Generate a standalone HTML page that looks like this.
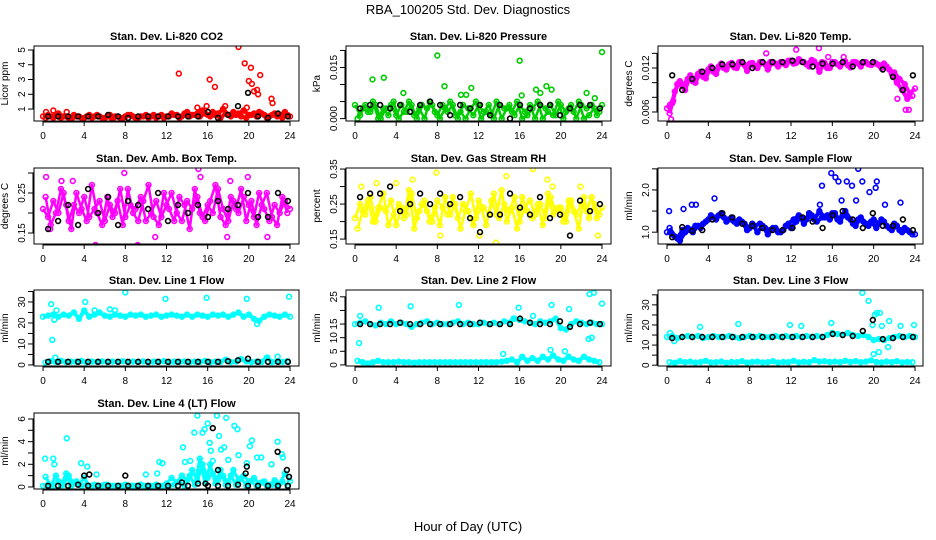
<!DOCTYPE html>
<html><head><meta charset="utf-8">
<style>
html,body{margin:0;padding:0;background:#fff;}
svg{display:block;font-family:"Liberation Sans",sans-serif;}
</style></head>
<body>
<svg id="chart" width="936" height="540" viewBox="0 0 936 540" xmlns="http://www.w3.org/2000/svg">
<text x="468" y="14" text-anchor="middle" font-size="13">RBA_100205  Std. Dev. Diagnostics</text>
<text x="468" y="531" text-anchor="middle" font-size="13">Hour of Day (UTC)</text>
</svg>
<script>
// ---- data arrays ----
const xTicks = [0,4,8,12,16,20,24];

const co2A = [0.5,0.6,0.4,0.7,0.5,0.4,0.6,0.5,0.4,0.6,0.5,0.5,0.4,0.6,0.5,0.4,0.5,0.6,0.4,0.5,0.6,0.5,0.4,0.6,0.5,0.7,0.6,0.5,0.8,0.6,0.7,0.9,0.6,0.8,0.7,1.0,0.6,0.8,0.7,0.9,0.6,0.7,0.8,0.6,0.5,0.7,0.6,0.8,0.5];
const co2B = [0.4,0.5,0.6,0.4,0.5,0.3,0.5,0.4,0.5,0.4,0.6,0.4,0.5,0.3,0.5,0.4,0.6,0.5,0.4,0.5,0.4,0.6,0.5,0.4,0.5,0.6,0.4,0.7,0.5,0.6,0.5,0.7,0.5,0.6,0.4,0.7,0.5,0.6,0.5,0.4,0.6,0.5,0.7,0.4,0.6,0.5,0.4,0.6];
const co2K = [0.5,0.5,0.5,0.5,0.5,0.5,0.6,0.5,0.4,0.5,0.5,0.5,0.5,0.5,0.5,0.5,0.8,0.4,0.6,1.2,2.1,0.5,0.4,0.7,0.5];
const co2OutH = [13.2,16.2,16.7,19.0,19.6,20.2,20.0,20.3,20.5,20.8,20.9,21.1,22.2,22.3,15.0,15.9,17.7,19.8,0.3,1.0,2.3];
const co2OutV = [3.4,3.0,2.5,5.2,4.1,3.8,2.9,2.7,2.2,2.3,2.0,3.3,1.7,1.4,1.1,1.2,1.2,1.1,0.8,0.9,0.8];

const prA = [0.004,0.001,0.004,0.002,0.004,0.000,0.003,0.004,0.001,0.004,0.002,0.004,0.000,0.004,0.003,0.004,0.001,0.004,0.002,0.004,0.000,0.004,0.003,0.001,0.004,0.002,0.004,0.000,0.004,0.003,0.004,0.001,0.004,0.002,0.004,0.000,0.004,0.003,0.004,0.001,0.004,0.002,0.004,0.000,0.004,0.003,0.004,0.001,0.004];
const prB = [0.000,0.003,0.002,0.005,0.000,0.003,0.001,0.005,0.000,0.002,0.005,0.001,0.003,0.000,0.005,0.002,0.000,0.003,0.005,0.001,0.002,0.000,0.003,0.005,0.000,0.002,0.001,0.005,0.000,0.003,0.002,0.005,0.000,0.001,0.003,0.005,0.000,0.002,0.001,0.005,0.000,0.003,0.002,0.005,0.000,0.001,0.003,0.002];
const prK = [0.003,0.004,0.004,0.003,0.004,0.002,0.004,0.005,0.004,0.001,0.004,0.003,0.004,0.001,0.004,0.000,0.004,0.003,0.004,0.004,0.001,0.003,0.004,0.004,0.003];
const prOutH = [1.7,2.8,4.7,8.0,8.7,10.3,10.8,11.3,16.0,16.2,17.6,18.0,18.6,19.1,22.5,24.0,23.3];
const prOutV = [0.0115,0.012,0.0075,0.0185,0.0095,0.007,0.007,0.009,0.017,0.0068,0.0085,0.0075,0.0095,0.0085,0.0075,0.0195,0.006];

const tmA = [0.0065,0.0072,0.0098,0.0095,0.0105,0.0102,0.0112,0.0108,0.0118,0.0115,0.0122,0.0120,0.0125,0.0121,0.0128,0.0124,0.0126,0.0122,0.0128,0.0125,0.0128,0.0126,0.0128,0.0124,0.0130,0.0127,0.0129,0.0125,0.0131,0.0124,0.0128,0.0120,0.0128,0.0125,0.0128,0.0124,0.0128,0.0126,0.0128,0.0125,0.0128,0.0124,0.0126,0.0118,0.0114,0.0105,0.0098,0.0085,0.0092];
const tmB = [0.0058,0.0088,0.0102,0.0090,0.0110,0.0100,0.0115,0.0106,0.0122,0.0112,0.0126,0.0118,0.0127,0.0120,0.0128,0.0116,0.0127,0.0120,0.0128,0.0118,0.0128,0.0122,0.0127,0.0130,0.0126,0.0132,0.0128,0.0122,0.0129,0.0115,0.0127,0.0120,0.0128,0.0122,0.0129,0.0121,0.0128,0.0122,0.0128,0.0124,0.0126,0.0120,0.0122,0.0112,0.0100,0.0090,0.0078,0.0082];
const tmK = [0.0110,0.0090,0.0105,0.0115,0.0120,0.0125,0.0125,0.0128,0.0120,0.0128,0.0128,0.0128,0.0130,0.0128,0.0122,0.0126,0.0126,0.0128,0.0122,0.0128,0.0128,0.0118,0.0108,0.0090,0.0110];
const tmOutH = [0.4,9.6,14.7,12.5,15.6,23.1,23.4,22.3,17.1,0.3,0.6];
const tmOutV = [0.0050,0.0140,0.0147,0.0145,0.0135,0.0063,0.0063,0.0078,0.0135,0.0070,0.0075];

const abA = [0.21,0.19,0.23,0.20,0.25,0.18,0.22,0.20,0.24,0.19,0.21,0.23,0.18,0.22,0.20,0.26,0.19,0.22,0.21,0.24,0.18,0.20,0.23,0.19,0.22,0.25,0.20,0.18,0.23,0.21,0.24,0.19,0.22,0.20,0.26,0.21,0.18,0.23,0.20,0.24,0.22,0.19,0.25,0.21,0.18,0.22,0.20,0.23,0.21];
const abB = [0.24,0.17,0.20,0.26,0.22,0.16,0.25,0.21,0.18,0.27,0.20,0.17,0.24,0.19,0.23,0.17,0.26,0.20,0.18,0.23,0.27,0.19,0.17,0.25,0.21,0.18,0.24,0.22,0.16,0.26,0.20,0.18,0.23,0.27,0.19,0.17,0.24,0.21,0.26,0.18,0.23,0.17,0.22,0.25,0.19,0.17,0.24,0.20];
const abK = [0.16,0.18,0.22,0.17,0.26,0.20,0.24,0.17,0.23,0.22,0.21,0.25,0.18,0.22,0.20,0.22,0.19,0.23,0.21,0.22,0.25,0.19,0.19,0.25,0.23];
const abOutH = [0.3,1.8,2.9,5.1,7.9,9.2,15.1,15.3,17.9,19.9,21.8,18.2,10.9,0.7];
const abOutV = [0.29,0.28,0.28,0.12,0.30,0.12,0.31,0.29,0.14,0.29,0.14,0.28,0.14,0.16];

const rhA = [0.21,0.25,0.22,0.27,0.20,0.24,0.23,0.26,0.19,0.24,0.22,0.28,0.21,0.25,0.23,0.20,0.26,0.24,0.22,0.27,0.21,0.25,0.23,0.19,0.26,0.24,0.22,0.28,0.21,0.25,0.23,0.27,0.20,0.24,0.26,0.22,0.25,0.21,0.27,0.23,0.24,0.20,0.26,0.22,0.25,0.23,0.27,0.21,0.24];
const rhB = [0.18,0.23,0.26,0.20,0.24,0.28,0.19,0.22,0.25,0.21,0.29,0.18,0.23,0.26,0.20,0.24,0.19,0.27,0.22,0.25,0.18,0.23,0.28,0.21,0.24,0.19,0.26,0.22,0.29,0.20,0.24,0.18,0.27,0.23,0.21,0.25,0.19,0.28,0.22,0.24,0.20,0.26,0.23,0.18,0.27,0.21,0.25,0.22];
const rhK = [0.27,0.28,0.28,0.30,0.23,0.25,0.28,0.25,0.28,0.25,0.27,0.21,0.17,0.22,0.22,0.28,0.24,0.22,0.27,0.21,0.22,0.16,0.26,0.23,0.25];
const rhOutH = [0.6,2.1,5.6,7.9,13.7,14.7,17.3,18.7,21.9,19.2,23.6,12.1,8.3,4.0];
const rhOutV = [0.30,0.31,0.32,0.34,0.14,0.33,0.35,0.32,0.30,0.30,0.16,0.16,0.16,0.31];

const sfA = [1.0,0.95,0.85,1.05,1.1,1.0,1.15,1.2,1.3,1.35,1.4,1.35,1.3,1.25,1.3,1.2,1.1,1.15,1.2,1.1,1.05,1.1,1.0,1.15,1.1,1.25,1.35,1.3,1.4,1.25,1.35,1.4,1.45,1.3,1.4,1.35,1.2,1.3,1.25,1.15,1.3,1.2,1.25,1.1,1.2,1.05,1.1,1.0,0.95];
const sfB = [1.1,0.9,0.8,1.0,1.05,1.15,1.1,1.25,1.4,1.3,1.45,1.25,1.35,1.2,1.25,1.05,1.2,1.0,1.15,0.95,1.1,1.0,1.05,1.2,1.3,1.4,1.2,1.45,1.3,1.5,1.35,1.3,1.45,1.25,1.5,1.3,1.15,1.35,1.2,1.25,1.1,1.3,1.15,1.05,1.15,1.0,1.05,0.95];
const sfK = [0.88,1.12,1.03,1.05,1.3,1.45,1.35,1.2,1.15,1.1,1.05,1.05,1.1,1.35,1.25,1.1,1.4,1.5,1.3,1.1,1.45,1.15,1.15,1.3,1.05];
const sfOutH = [0.2,1.6,2.4,2.8,4.6,15.0,15.9,16.3,16.6,17.4,17.9,18.5,18.9,19.6,20.2,20.3,21.1,22.6,14.8,16.9,18.3];
const sfOutV = [1.5,1.55,1.65,1.65,1.8,2.1,2.4,2.3,2.2,2.2,2.1,2.5,2.2,1.95,2.05,2.2,1.65,1.7,1.65,1.75,1.75];

const l1A = [23,23.5,24,23,24,23.5,25,22,26,23,24,25,23.5,23,24,23.5,23,24,23.5,24,23,23.5,24,23,23.5,24,23.5,23,24,23,24,23.5,23,24,23.5,24,23,24,25,23,24,22,21,23,24,23.5,23,24,23];
const l1B = [1.2,1.8,1.5,2.0,1.4,1.6,1.5,1.9,1.3,1.6,1.5,1.7,1.4,1.6,1.5,1.8,1.4,1.6,1.5,1.7,1.3,1.6,1.5,1.8,1.4,1.6,1.5,1.7,1.4,1.6,1.5,1.9,1.3,1.6,1.5,2.5,1.4,1.6,2.8,1.7,1.4,1.6,1.5,3.5,1.4,1.6,1.5,1.8];
const l1K = [1.5,1.5,1.5,1.5,1.5,1.5,1.5,1.5,1.5,1.5,1.5,1.5,1.5,1.5,1.5,1.5,1.5,1.5,1.8,2.2,3.0,1.5,1.5,1.5,1.5];
const l1OutH = [0.8,1.1,0.9,1.2,4.1,8.0,1.3,11.9,15.9,19.8,23.9,6.5,7.0,20.8,22.8,21.8,5.0];
const l1OutV = [29,21.5,12,3.5,30,34.5,26,31.5,32,31.5,32.5,26.5,26,19.5,4,3.5,26];

const l2A = [15,15.5,16,15,14.5,15.5,15,16,15,15.5,15,14,15,15.5,16,15,15.5,15,15,15.5,16,15,15.5,15,15,15.5,15,15.5,15,16,15.5,17,16.5,16,15.5,15,16,15.5,16,17,13.5,13,15,16,15.5,15,15.5,15,15];
const l2B = [1.5,1,0.5,1,1.5,1,1,1,1.2,1,1,0.8,1,1,1,1,1,1,1,1,1,1,1,1,1,1,1,1,1.2,1.5,2,1,3,1.5,2.5,1.5,3,2,3.5,2,1.5,3,2,1.5,3,2,1.5,1];
const l2K = [15,15,15,15,15.5,15,15,15,15,15,15,15,15.5,15,15,15,17,15.5,15,15,16,14,15,15.5,15];
const l2OutH = [0.5,0.4,2.3,5.4,10.1,15.9,19.1,20.8,22.8,23.2,24.0,22.7,23.0,14.4,19.0,20.4,17.3,15.4];
const l2OutV = [18,8,21,21.5,22,21,22,20.5,26,26.5,22.5,9.5,10,4,5.5,5,18,17];

const l3A = [14,14.5,13.5,14,14.5,14,14.5,13.5,14,14.5,14,14,14.5,14,13.5,14,14.5,14,14.5,14,14,14.5,14,14.5,14,14.5,14,14.5,14,14.5,14,15,16,15.5,15,16,15,14.5,15,14,12.5,13,12.5,13.5,14,14.5,14,14.5,14];
const l3B = [1.5,1.2,2.0,1.5,1.8,1.3,1.6,2.2,1.4,1.5,1.8,1.2,1.6,1.5,2.0,1.3,1.6,1.8,1.4,1.5,2.0,1.3,1.6,1.5,2.2,1.4,1.7,1.5,2.5,1.8,2.0,1.6,1.8,1.5,2.2,1.6,2.0,1.5,1.8,2.4,1.6,1.4,1.8,1.5,2.0,1.4,1.6,1.5];
const l3K = [13.5,14,14,14,14,14,14,14,14,14,14,14,14,14,14,14,15.5,15,14.5,17,22.5,13,13.5,14,14];
const l3OutH = [0.3,0.7,3.2,6.9,11.9,13.0,15.9,18.9,19.5,19.9,20.1,20.3,20.6,20.8,21.5,21.4,20.0,20.5,22.6,23.9];
const l3OutV = [16,12,19,20.5,20,19.5,21,36,32,20,25,26,26,19.5,22,9,5.5,6.5,19.5,20];

const l4A = [0.1,0.2,0.1,0.5,0.2,1.0,0.3,0.2,0.8,0.1,0.2,0.1,0.2,0.1,0.1,0.1,0.2,0.1,0.1,0.2,0.1,0.1,0.2,0.1,0.3,0.8,0.4,1.0,0.6,1.5,0.5,2.0,0.8,1.2,0.6,1.0,0.4,1.5,0.6,1.0,0.5,0.8,0.3,0.5,0.2,0.6,0.3,1.2,0.5];
const l4B = [0.9,0.1,1.0,0.1,1.2,0.1,0.5,0.1,0.2,0.1,0.1,0.1,0.2,0.1,0.1,0.1,0.1,0.1,0.1,0.1,0.1,0.1,0.1,0.1,0.1,0.2,0.5,0.1,1.0,0.2,2.5,0.3,2.0,0.3,1.5,0.2,1.0,0.2,0.8,0.1,0.5,0.1,0.4,0.1,0.2,0.1,0.5,0.1];
const l4K = [0.1,0.1,0.1,0.2,0.1,0.1,0.1,0.1,0.1,0.1,0.1,0.1,0.1,0.1,0.1,0.3,0.1,0.1,0.1,0.2,0.1,0.1,0.1,0.1,0.1];
const l4KxH = [4.0,4.5,8.0,16.5,17.0,19.8,19.7,22.8,23.7,23.9,13.5,15.8];
const l4KxV = [1.0,1.1,1.0,5.2,1.5,1.8,1.2,3.1,1.5,0.9,0.4,0.3];
const l4OutH = [0.2,1.0,1.1,2.3,3.7,4.3,11.3,11.6,13.6,13.8,14.7,15.0,15.5,15.7,16.0,16.2,16.9,17.3,17.6,17.8,18.0,18.6,18.9,19.0,19.8,20.1,20.3,20.8,21.2,22.2,22.8,23.2,23.3,16.5,16.3,17.1,14.3,10.0,11.1,5.2];
const l4OutV = [2.5,2.5,2.0,4.3,2.1,1.8,2.2,2.1,3.5,2.2,4.8,6.3,4.8,5.1,5.6,3.9,6.3,3.3,3.5,6.1,2.4,5.4,5.1,2.8,2.1,3.6,4.1,2.6,2.6,2.0,4.0,2.9,2.6,2.3,3.2,4.5,2.3,1.1,1.2,1.1];

// ---- layout (not data) ----
const NS = "http://www.w3.org/2000/svg";
const svg = document.getElementById('chart');
const cols = [{bl:34,br:299,x0:43,x24:290},{bl:346,br:611,x0:355,x24:602},{bl:658,br:923,x0:667,x24:915}];
const rows = [{t:46,b:121},{t:168,b:244},{t:290,b:366},{t:413,b:489}];

const panels = [
 {name:'co2',title:'Stan. Dev. Li-820 CO2',yl:'Licor ppm',c:0,r:0,ymin:0.19,ymax:5.27,ticks:[1,2,3,4,5],labels:['1','2','3','4','5'],col:'#ff0000',lw:4,A:co2A,B:co2B,K:co2K,oh:co2OutH,ov:co2OutV},
 {name:'pressure',title:'Stan. Dev. Li-820 Pressure',yl:'kPa',c:1,r:0,ymin:-0.0007,ymax:0.0213,ticks:[0,0.005,0.01,0.015,0.02],labels:['0.000','','','0.015',''],col:'#00cd00',lw:2.5,A:prA,B:prB,K:prK,oh:prOutH,ov:prOutV},
 {name:'temp',title:'Stan. Dev. Li-820 Temp.',yl:'degrees C',c:2,r:0,ymin:0.00477,ymax:0.015,ticks:[0.006,0.008,0.010,0.012,0.014],labels:['0.006','','','0.012',''],col:'#ff00ff',lw:4,A:tmA,B:tmB,K:tmK,oh:tmOutH,ov:tmOutV},
 {name:'amb-box-temp',title:'Stan. Dev. Amb. Box Temp.',yl:'degrees C',c:0,r:1,ymin:0.1225,ymax:0.3125,ticks:[0.15,0.2,0.25,0.3],labels:['0.15','','0.25',''],col:'#ff00ff',lw:2.5,A:abA,B:abB,K:abK,oh:abOutH,ov:abOutV},
 {name:'gas-rh',title:'Stan. Dev. Gas Stream RH',yl:'percent',c:1,r:1,ymin:0.136,ymax:0.353,ticks:[0.15,0.2,0.25,0.3,0.35],labels:['0.15','','0.25','','0.35'],col:'#ffff00',lw:2.5,A:rhA,B:rhB,K:rhK,oh:rhOutH,ov:rhOutV},
 {name:'sample-flow',title:'Stan. Dev. Sample Flow',yl:'ml/min',c:2,r:1,ymin:0.72,ymax:2.52,ticks:[1,1.5,2,2.5],labels:['1.0','','2.0',''],col:'#0000ff',lw:4,A:sfA,B:sfB,K:sfK,oh:sfOutH,ov:sfOutV},
 {name:'line1-flow',title:'Stan. Dev. Line 1 Flow',yl:'ml/min',c:0,r:2,ymin:-0.5,ymax:35.7,ticks:[0,5,10,15,20,25,30,35],labels:['0','','10','','20','','30',''],col:'#00ffff',lw:4,A:l1A,B:l1B,K:l1K,oh:l1OutH,ov:l1OutV},
 {name:'line2-flow',title:'Stan. Dev. Line 2 Flow',yl:'ml/min',c:1,r:2,ymin:-0.4,ymax:27.5,ticks:[0,5,10,15,20,25],labels:['0','5','10','15','','25'],col:'#00ffff',lw:4,A:l2A,B:l2B,K:l2K,oh:l2OutH,ov:l2OutV},
 {name:'line3-flow',title:'Stan. Dev. Line 3 Flow',yl:'ml/min',c:2,r:2,ymin:-0.4,ymax:37.4,ticks:[0,5,10,15,20,25,30,35],labels:['0','','10','','20','','30',''],col:'#00ffff',lw:4,A:l3A,B:l3B,K:l3K,oh:l3OutH,ov:l3OutV},
 {name:'line4-flow',title:'Stan. Dev. Line 4 (LT) Flow',yl:'ml/min',c:0,r:3,ymin:-0.18,ymax:6.53,ticks:[0,1,2,3,4,5,6],labels:['0','','2','','4','','6'],col:'#00ffff',lw:3,A:l4A,B:l4B,K:l4K,oh:l4OutH,ov:l4OutV,kh:l4KxH,kv:l4KxV}
];

function mk(tag, attrs, parent){
  const e = document.createElementNS(NS, tag);
  for (const k in attrs) e.setAttribute(k, attrs[k]);
  (parent||svg).appendChild(e);
  return e;
}

panels.forEach(p => {
  const C = cols[p.c], R = rows[p.r];
  const xs = h => C.x0 + (C.x24 - C.x0) * h / 24;
  const ys = v => R.b - (R.b - R.t) * (v - p.ymin) / (p.ymax - p.ymin);
  const g = mk('g', {});
  
  

  const t = mk('text', {x:(C.bl+C.br)/2, y:R.t-6, 'text-anchor':'middle', 'font-size':'11', 'font-weight':'bold'}, g);
  t.textContent = p.title;
  
  

  const yl = mk('text', {x:0, y:0, 'text-anchor':'middle', 'font-size':'10', transform:`translate(${C.bl-26},${(R.t+R.b)/2}) rotate(-90)`}, g);
  yl.textContent = p.yl;
  
  

  const clip = mk('clipPath', {id:'clip-'+p.name}, g);
  mk('rect', {x:C.bl, y:R.t, width:C.br-C.bl, height:R.b-R.t}, clip);
  const pts = mk('g', {'clip-path':'url(#clip-'+p.name+')'}, g);
  
  

  const nA = p.A.length;
  const hA = i => 24*i/(nA-1);
  const hB = i => 24*(i+0.5)/(nA-1);
  [[p.A,hA],[p.B,hB]].forEach(([arr,hf]) => {
    const d = arr.map((v,i) => xs(hf(i)).toFixed(1)+','+ys(v).toFixed(1)).join(' ');
    const pl = mk('polyline', {points:d, fill:'none', stroke:p.col, 'stroke-width':p.lw, 'stroke-linejoin':'round'}, pts);
    
    
  });

  function dot(h, v, color){
    const c = mk('circle', {cx:xs(h).toFixed(1), cy:ys(v).toFixed(1), r:'2.4', fill:'none', stroke:color, 'stroke-width':'1.6'}, pts);
    
    
  }
  p.A.forEach((v,i) => dot(hA(i), v, p.col));
  p.B.forEach((v,i) => dot(hB(i), v, p.col));
  p.oh.forEach((h,i) => dot(h, p.ov[i], p.col));
  const nK = p.K.length;
  p.K.forEach((v,i) => dot(0.5 + 23.3*i/(nK-1), v, '#000'));
  if (p.kh) p.kh.forEach((h,i) => dot(h, p.kv[i], '#000'));

  const box = mk('rect', {x:C.bl, y:R.t, width:C.br-C.bl, height:R.b-R.t, fill:'none', stroke:'#000', 'stroke-width':'1'}, g);
  
  

  mk('line', {x1:xs(0), x2:xs(24), y1:R.b+1, y2:R.b+1, stroke:'#000'}, g);
  xTicks.forEach(h => {
    mk('line', {x1:xs(h), x2:xs(h), y1:R.b, y2:R.b+5, stroke:'#000'}, g);
    const tl = mk('text', {x:xs(h), y:R.b+18, 'text-anchor':'middle', 'font-size':'10'}, g);
    tl.textContent = h;
    
    
  });
  mk('line', {x1:C.bl-1, x2:C.bl-1, y1:ys(p.ticks[0]), y2:ys(p.ticks[p.ticks.length-1]), stroke:'#000'}, g);
  p.ticks.forEach((v,i) => {
    const y = ys(v);
    mk('line', {x1:C.bl-6, x2:C.bl, y1:y, y2:y, stroke:'#000'}, g);
    if (p.labels[i]) {
      const tl = mk('text', {x:0, y:0, 'text-anchor':'middle', 'font-size':'10', transform:`translate(${C.bl-9},${y}) rotate(-90)`}, g);
      tl.textContent = p.labels[i];
      
      
    }
  });
});
</script>
</body></html>
